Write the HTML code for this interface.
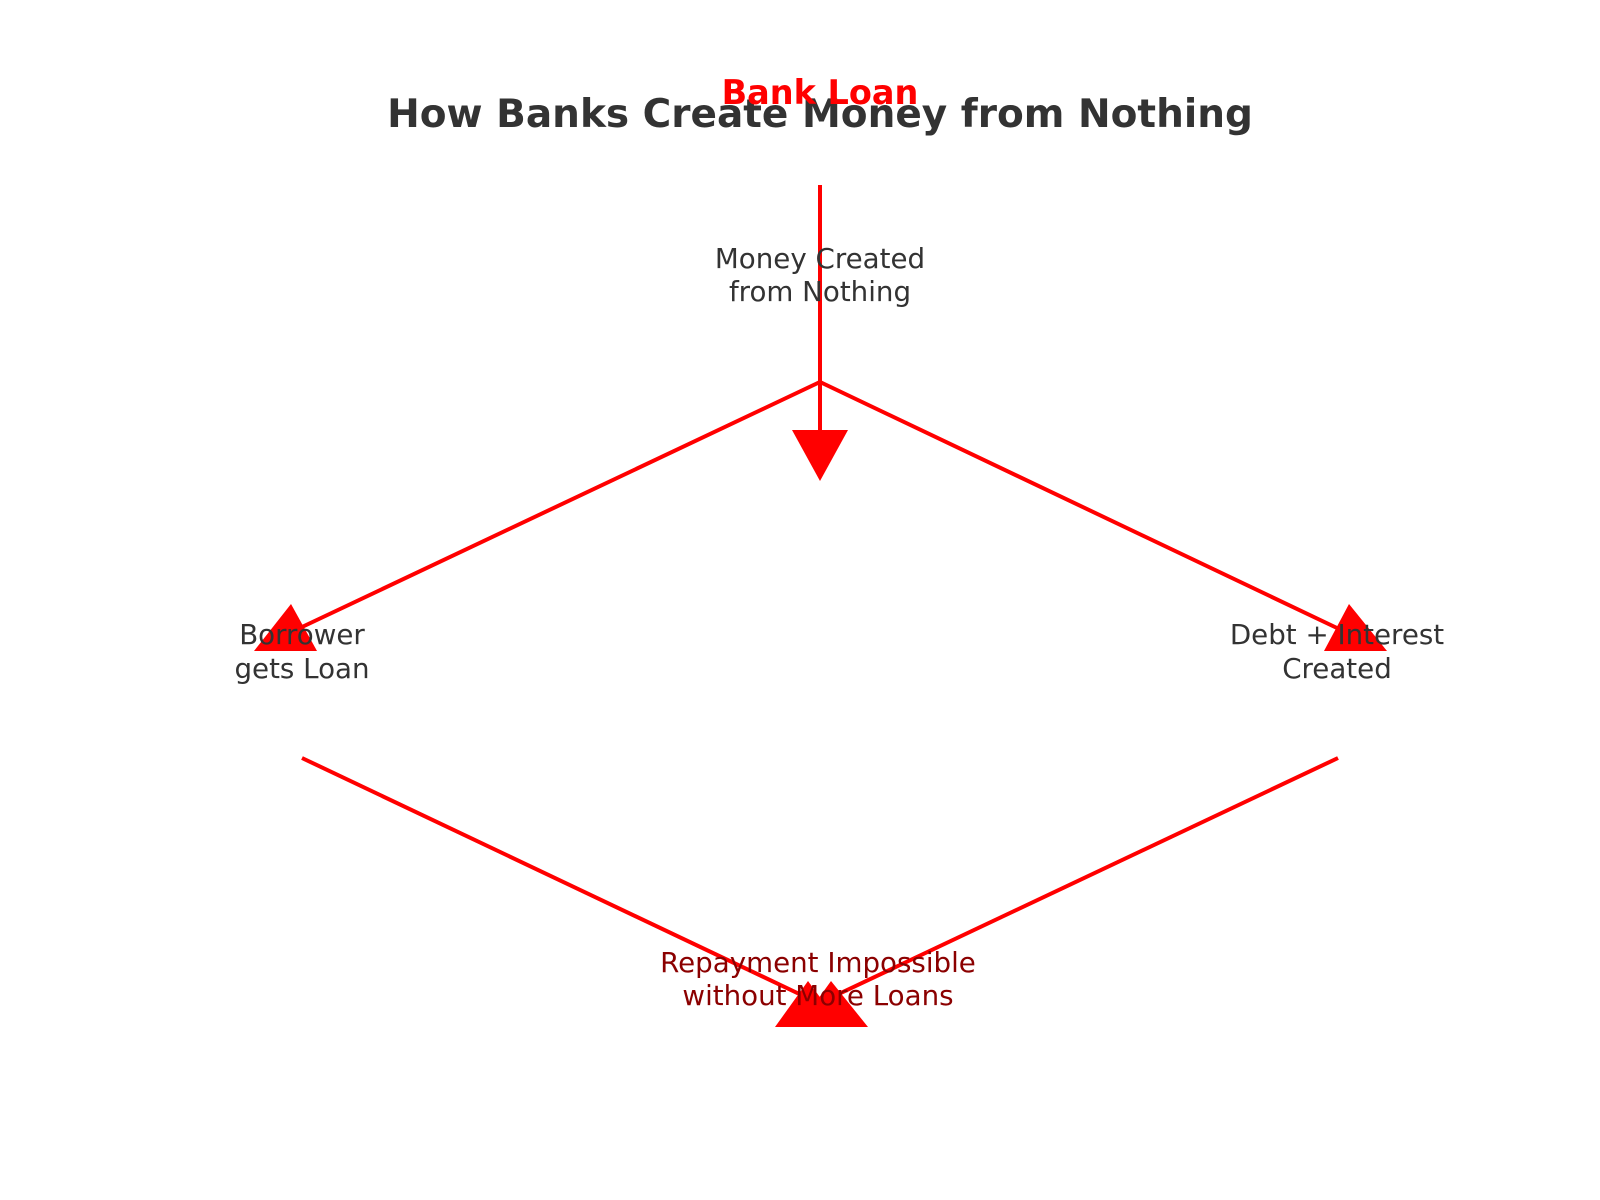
<!DOCTYPE html>
<html><head><meta charset="utf-8"><style>
html,body{margin:0;padding:0;background:#fff;}
svg{display:block;}
text{font-family:"DejaVu Sans","Liberation Sans",sans-serif;}
</style></head><body>
<svg width="1600" height="1200" viewBox="0 0 1600 1200" xmlns="http://www.w3.org/2000/svg">
<rect width="1600" height="1200" fill="#fff"/>
<g stroke="#ff0000" stroke-width="4" fill="none" stroke-linecap="butt">
<line x1="820" y1="185" x2="820" y2="432"/>
<polyline points="302,627 820,382 1337,628"/>
<line x1="302" y1="758" x2="812" y2="1000"/>
<line x1="1338" y1="758" x2="826" y2="1000"/>
</g>
<g fill="#ff0000">
<polygon points="792,430 848,430 820,481"/>
<polygon points="254,651 317,651 291,604"/>
<polygon points="1324,651 1387,651 1349,604"/>
<polygon points="775,1027 842,1027 808,981"/>
<polygon points="798,1027 868,1027 831,981"/>
</g>
<text x="820" y="127" text-anchor="middle" font-size="39" font-weight="bold" fill="#333">How Banks Create Money from Nothing</text>
<text x="820" y="104" text-anchor="middle" font-size="33.5" font-weight="bold" fill="#ff0000">Bank Loan</text>
<g font-size="27.7" fill="#333" text-anchor="middle">
<text x="820" y="268">Money Created</text>
<text x="820" y="301">from Nothing</text>
<text x="302" y="644">Borrower</text>
<text x="302" y="678">gets Loan</text>
<text x="1337" y="644">Debt + Interest</text>
<text x="1337" y="678">Created</text>
</g>
<g font-size="27.7" fill="#8b0000" text-anchor="middle">
<text x="818" y="972">Repayment Impossible</text>
<text x="818" y="1005">without More Loans</text>
</g>
</svg>
</body></html>
